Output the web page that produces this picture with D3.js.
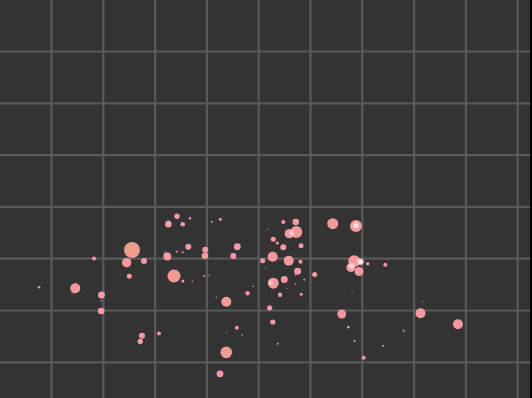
<!DOCTYPE html>
<html><head><meta charset="utf-8">
<script src="https://cdn.jsdelivr.net/npm/d3@7/dist/d3.min.js"></script>
<style>html,body{margin:0;padding:0;background:#000;overflow:hidden}svg{display:block}</style>
</head><body><div id="chart"></div>
<script>
// data (grid units)
const xs = [2.554,2.452,2.786,1.820,2.502,1.459,0.759,1.965,1.961,1.959,2.747,2.714,3.075,3.423,3.255,3.533,3.674,4.093,4.259,3.641,3.969,3.963,3.236,3.417,3.533,4.587,4.510,5.077,3.365,3.535,3.718,3.948,4.046,4.896,4.784,4.180,4.375,4.577,4.681,4.375,4.375,4.253,5.475,5.716,5.591,5.726,5.166,5.282,5.359,5.475,5.817,5.270,5.579,5.807,5.131,5.753,6.081,5.494,5.282,5.705,5.880,5.710,5.546,5.411,5.822,5.212,5.272,5.367,6.429,6.878,6.844,6.965,6.778,6.936,7.104,7.444,6.602,6.730,6.849,7.400,7.027,7.799,8.168,8.124,8.847,6.805];
const ys = [3.168,2.923,2.956,3.004,2.662,2.429,2.448,2.299,2.189,1.990,1.514,1.402,1.556,3.819,3.664,3.664,3.780,3.714,3.761,3.232,3.174,3.058,3.042,3.139,3.124,3.232,3.052,2.961,2.666,2.569,2.566,2.666,2.680,2.469,2.332,2.257,2.170,1.668,1.527,1.579,1.193,0.778,3.708,3.708,3.483,3.515,3.568,3.375,3.303,3.220,3.251,3.039,2.961,2.942,2.834,2.757,2.695,2.598,2.527,2.691,2.593,2.512,2.429,2.303,2.313,2.052,1.778,1.359,3.676,3.631,2.950,2.942,2.828,2.753,2.902,2.882,1.932,1.676,1.411,1.320,1.089,1.610,2.178,1.946,1.734,2.373];
const mags = [64,22,9,4,6.3,25,1.7,12,0.5,11,9,7.3,4,7.3,11,5.3,1.4,1,2.3,9,9,11,16,1,1,12,9,6.3,42,2.3,0.6,1,0.5,0.6,4.8,0.5,25,4,0.6,0.3,34,11.5,4,11,22,36,0.4,6.3,2.3,9,6.3,25,25,4,0.4,12,6.3,12,30,0.5,1,0.5,0.3,4.8,2.3,6.8,6.8,1,30,36,36,9,20,20,2.9,4,20,1.7,1.2,1,4,1,0.4,25,25,0.3];
// highlighted (white) points
const hx = [6.878,6.965,5.637,5.228,3.259,3.201,6.792,1.410];
const hy = [3.641,2.942,3.490,2.535,3.712,3.104,2.859,2.346];
const hm = [6.3,7,3,2.3,1,1,5,0.5];

const W = 530, H = 398;
const svg = d3.select('#chart').append('svg').attr('width', W).attr('height', H);
svg.append('rect').attr('width', W).attr('height', H).attr('fill', '#333333');

const x = d3.scaleLinear().domain([0, 10]).range([-0.3, 517.7]);
const y = d3.scaleLinear().domain([0, 8]).range([414.1, -0.3]);
const r = d3.scaleSqrt().domain([0, 64]).range([0, 8]);
const col = d3.scaleLinear().domain([0, 64]).range(['#ff9cae', '#f8a292']).interpolate(d3.interpolateRgb);

const defs = svg.append('defs');
defs.append('filter').attr('id', 'soft').attr('x', '-50%').attr('y', '-50%').attr('width', '200%').attr('height', '200%')
  .append('feGaussianBlur').attr('stdDeviation', 0.75);
defs.append('filter').attr('id', 'soft2').attr('x', '-100%').attr('y', '-100%').attr('width', '300%').attr('height', '300%')
  .append('feGaussianBlur').attr('stdDeviation', 0.9);

const grid = svg.append('g').attr('stroke', '#5a5a5a').attr('stroke-width', 2.2);
grid.selectAll('line.v').data(d3.range(1, 11)).join('line')
  .attr('x1', d => x(d)).attr('x2', d => x(d)).attr('y1', 0).attr('y2', H);
grid.selectAll('line.h').data(d3.range(1, 8)).join('line').attr('class', 'h')
  .attr('y1', d => y(d)).attr('y2', d => y(d)).attr('x1', 0).attr('x2', W);

const pts = xs.map((d, i) => ({x: d, y: ys[i], m: mags[i]}));
const hpts = hx.map((d, i) => ({x: d, y: hy[i], m: hm[i]}));

const g = svg.append('g').attr('filter', 'url(#soft)');
g.selectAll('circle.p').data(pts).join('circle').attr('class', 'p')
  .attr('cx', d => x(d.x)).attr('cy', d => y(d.y)).attr('r', d => r(d.m))
  .attr('fill', d => col(d.m)).attr('fill-opacity', 0.95);
svg.append('g').attr('filter', 'url(#soft2)').selectAll('circle.w').data(hpts).join('circle').attr('class', 'w')
  .attr('cx', d => x(d.x)).attr('cy', d => y(d.y)).attr('r', d => r(d.m))
  .attr('fill', '#ffffff').attr('fill-opacity', 0.95);
</script></body></html>
